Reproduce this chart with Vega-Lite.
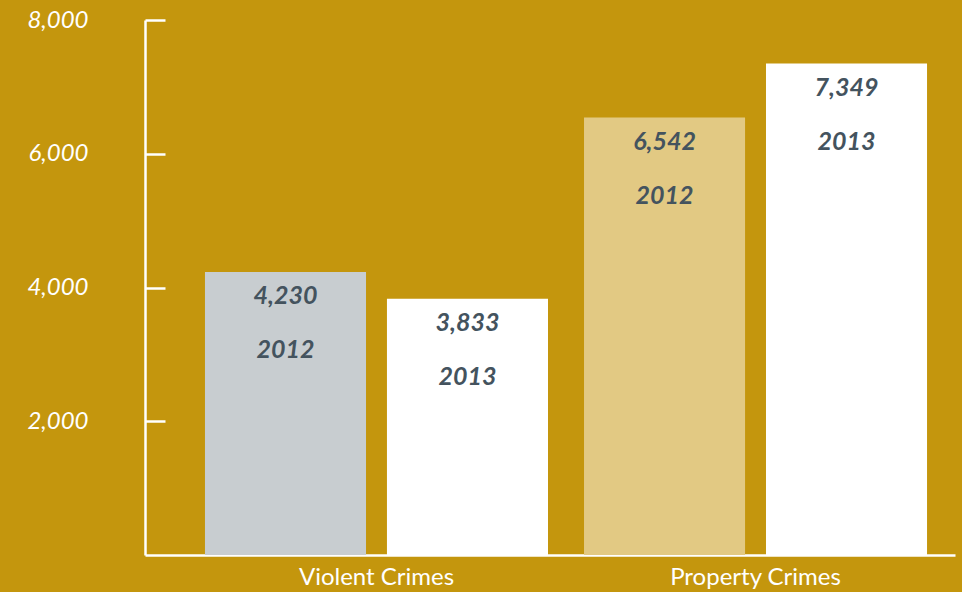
{
  "$schema": "https://vega.github.io/schema/vega-lite/v6.json",
  "width": 810,
  "height": 535,
  "autosize": {"type": "none"},
  "padding": {"left": 145, "top": 20, "right": 7, "bottom": 37},
  "background": "#C4960D",
  "config": {"view": {"stroke": null}},
  "data": {
    "values": [
      {"crime": "Violent Crimes", "year": "2012", "count": 4230, "bar": "Violent 2012"},
      {"crime": "Violent Crimes", "year": "2013", "count": 3833, "bar": "Violent 2013"},
      {"crime": "Property Crimes", "year": "2012", "count": 6542, "bar": "Property 2012"},
      {"crime": "Property Crimes", "year": "2013", "count": 7349, "bar": "Property 2013"}
    ]
  },
  "encoding": {
    "x": {
      "field": "crime",
      "type": "nominal",
      "sort": ["Violent Crimes", "Property Crimes"],
      "scale": {"paddingInner": 0.095, "paddingOuter": 0.116, "align": 0.682},
      "axis": {
        "title": null,
        "ticks": false,
        "labelAngle": 0,
        "labelColor": "#FFFFFF",
        "labelFont": "Lato",
        "labelFontSize": 24,
        "labelPadding": 10,
        "domainColor": "#FFFFFF",
        "domainWidth": 2.5
      }
    },
    "xOffset": {
      "field": "year",
      "type": "nominal",
      "sort": ["2012", "2013"],
      "scale": {"paddingInner": 0.115, "paddingOuter": 0}
    },
    "y": {
      "field": "count",
      "type": "quantitative",
      "scale": {"domain": [0, 8000], "nice": false},
      "axis": {
        "title": null,
        "values": [2000, 4000, 6000, 8000],
        "format": ",.0f",
        "grid": false,
        "labelColor": "#FFFFFF",
        "labelFont": "Lato",
        "labelFontStyle": "italic",
        "labelFontSize": 24,
        "labelPadding": 77,
        "tickColor": "#FFFFFF",
        "tickWidth": 2.5,
        "tickSize": -20,
        "domainColor": "#FFFFFF",
        "domainWidth": 2.5
      }
    }
  },
  "layer": [
    {
      "mark": {"type": "bar"},
      "encoding": {
        "color": {
          "field": "bar",
          "type": "nominal",
          "scale": {
            "domain": ["Violent 2012", "Violent 2013", "Property 2012", "Property 2013"],
            "range": ["#C8CDD0", "#FFFFFF", "#E2C983", "#FFFFFF"]
          },
          "legend": null
        }
      }
    },
    {
      "mark": {"type": "text", "dy": 24, "font": "Lato", "fontSize": 25, "fontWeight": "bold", "fontStyle": "italic", "color": "#44535E"},
      "encoding": {"text": {"field": "count", "type": "quantitative", "format": ","}}
    },
    {
      "mark": {"type": "text", "dy": 78, "font": "Lato", "fontSize": 25, "fontWeight": "bold", "fontStyle": "italic", "color": "#44535E"},
      "encoding": {"text": {"field": "year", "type": "nominal"}}
    }
  ]
}
